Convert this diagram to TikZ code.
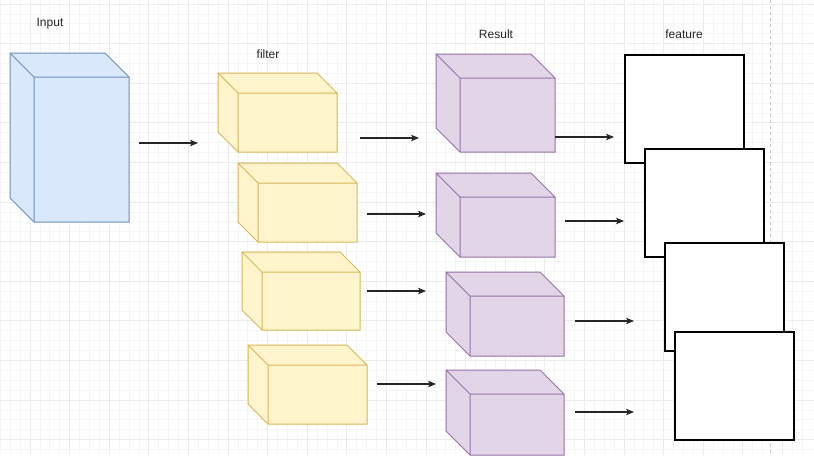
\documentclass[tikz,border=0pt]{standalone}
\usepackage{fontspec}
\setmainfont{Liberation Sans}
\usepackage{tikz}
\usetikzlibrary{arrows.meta, positioning}
\definecolor{inFill}{HTML}{DAE8FC}
\definecolor{inLine}{HTML}{6C8EBF}
\definecolor{fiFill}{HTML}{FFF4CC}
\definecolor{fiLine}{HTML}{D6B656}
\definecolor{reFill}{HTML}{E1D5E7}
\definecolor{reLine}{HTML}{9673A6}
% cuboid: style, name, x0, y0, x1, y1, depth
\newcommand{\cuboid}[7]{%
  \draw[#1] (#3,#4) -- ({#5-#7},#4) -- (#5,{#4+#7}) -- (#5,#6) -- ({#3+#7},#6) -- (#3,{#6-#7}) -- cycle;
  \draw[#1, fill=none] (#3,#4) -- ({#3+#7},{#4+#7}) -- (#5,{#4+#7})
    ({#3+#7},{#4+#7}) -- ({#3+#7},#6);
  \coordinate (#2) at ({(#3+#5)/2},{(#4+#6)/2});
}

\begin{document}
\begin{tikzpicture}[
      x=1pt, y=-1pt,
      minor/.style={draw=black!4, line width=0.8pt},
      major/.style={draw=black!8, line width=0.9pt},
      inbox/.style={fill=inFill, draw=inLine, line width=1pt},
      filterbox/.style={fill=fiFill, draw=fiLine, line width=1pt},
      resultbox/.style={fill=reFill, draw=reLine, line width=1pt},
      featbox/.style={draw=black, fill=white, line width=1.6pt, anchor=north west,
        minimum width=119pt, minimum height=108pt, inner sep=0pt},
      edge/.style={-{Stealth[length=8pt, width=6.5pt, inset=2pt]}, draw=black!85, line width=1.1pt},
      lbl/.style={font=\fontsize{12}{14}\selectfont, text=black!85}
    ]
    \useasboundingbox (0,0) rectangle (814,464);
    \fill[white] (0,0) rectangle (814,464);
    % grid
    \foreach \i in {0,...,81}
      \draw[minor] ({0.3+9.9*\i},0) -- ({0.3+9.9*\i},455);
    \foreach \j in {0,...,45}
      \draw[minor] (0,{4+9.9*\j}) -- (814,{4+9.9*\j});
    \foreach \i in {0,...,20}
      \draw[major] ({30+39.6*\i},0) -- ({30+39.6*\i},455);
    \foreach \j in {0,...,11}
      \draw[major] (0,{4+39.6*\j}) -- (814,{4+39.6*\j});
    \draw[black!22, line width=1pt, dash pattern=on 3pt off 3pt] (770,0) -- (770,455);

    % labels
    \node[lbl] (inlbl) at (50,24) {Input};
    \node[lbl] (filbl) at (268,54) {filter};
    \node[lbl] (relbl) at (496,34) {Result};
    \node[lbl] (felbl) at (684,34) {feature};

    % input
    \cuboid{inbox}{in}{10}{53}{129}{222}{24}
    % filters
    \cuboid{filterbox}{f1}{218}{73}{337}{152}{20}
    \cuboid{filterbox}{f2}{238}{163}{357}{242}{20}
    \cuboid{filterbox}{f3}{242}{252}{360}{330}{20}
    \cuboid{filterbox}{f4}{248}{345}{367}{424}{20}
    % results
    \cuboid{resultbox}{r1}{436}{54}{555}{152}{24}
    \cuboid{resultbox}{r2}{436}{173}{555}{257}{24}
    \cuboid{resultbox}{r3}{446}{272}{564}{356}{24}
    \cuboid{resultbox}{r4}{446}{370}{564}{455}{24}

    % features
    \node[featbox] (ft1) at (624,54) {};
    \node[featbox] (ft2) at (644,148) {};
    \node[featbox] (ft3) at (664,242) {};
    \node[featbox] (ft4) at (674,331) {};

    % arrows
    \foreach \n/\xa/\xb/\y in {a0/139/198/143, a1/360/419/138, a2/367/426/214,
        a3/367/426/291, a4/377/436/384, b1/555/614/137, b2/565/624/221,
        b3/575/634/321, b4/575/634/412} {
      \coordinate (\n s) at (\xa,\y);
      \coordinate (\n e) at (\xb,\y);
      \draw[edge] (\n s) -- (\n e);
    }
\end{tikzpicture}
\end{document}
